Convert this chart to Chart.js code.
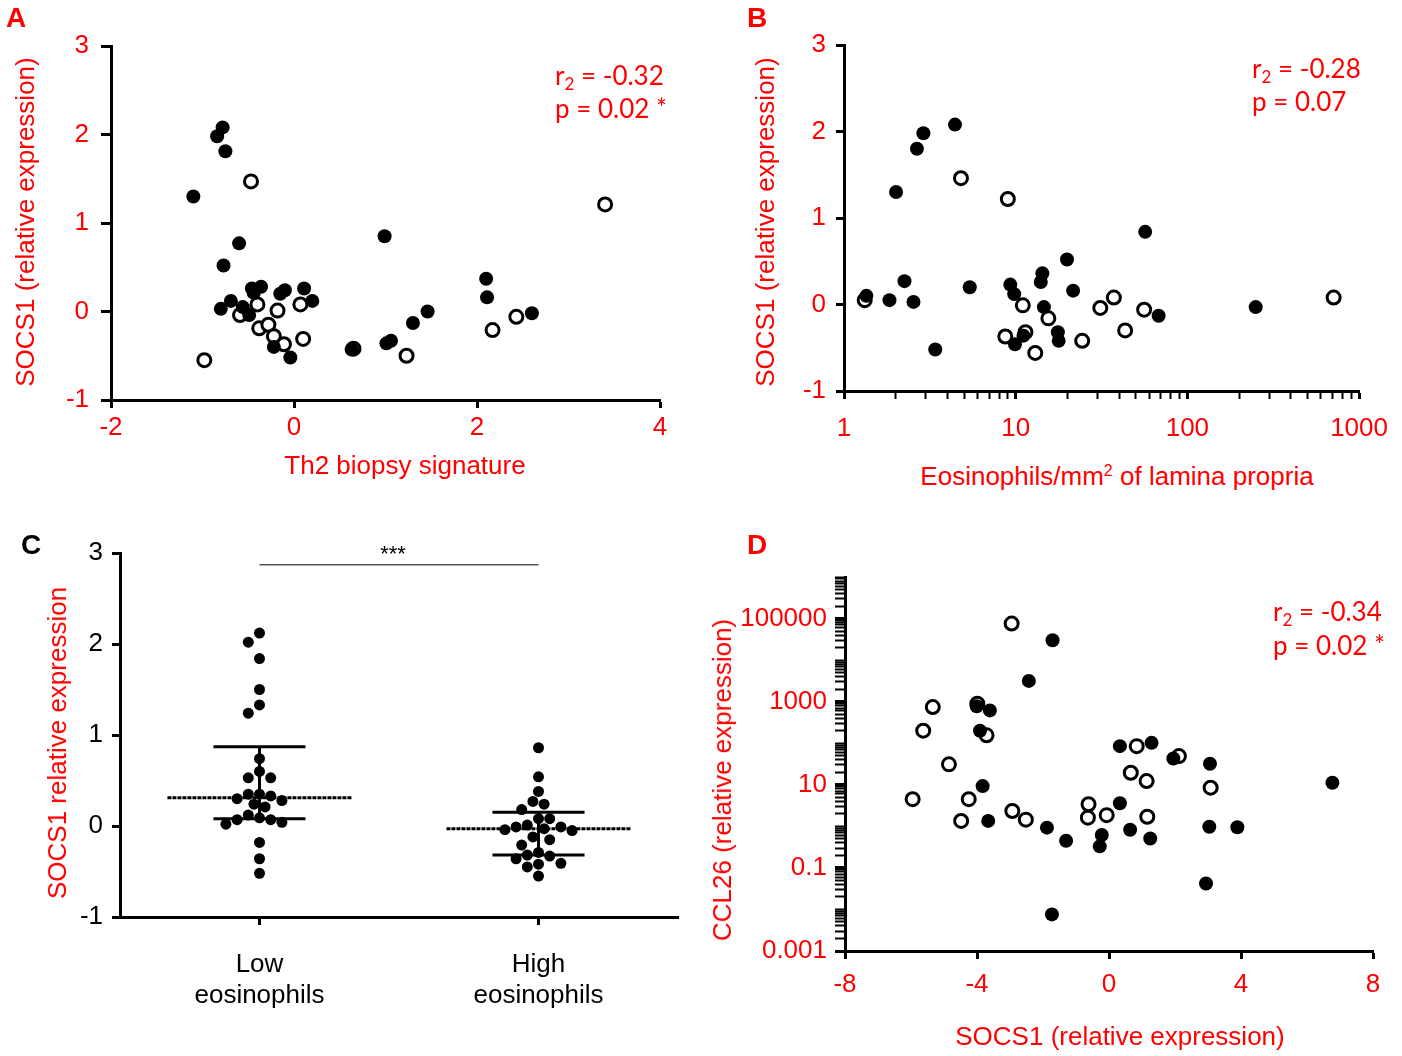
<!DOCTYPE html>
<html><head><meta charset="utf-8">
<script src="https://cdn.jsdelivr.net/npm/chart.js@4/dist/chart.umd.min.js"></script>
<style>
html,body{margin:0;padding:0;background:#fff;}
#page{position:relative;width:1402px;height:1056px;overflow:hidden;font-family:"Liberation Sans",Arial,sans-serif;background:#fff;}
canvas{position:absolute;}
.t{position:absolute;white-space:nowrap;color:#f00;font-size:26px;line-height:1;}
.rot{transform:translate(-50%,-50%) rotate(-90deg);}
.ctr{transform:translate(-50%,-50%);}
.ann{font-family:Lato,"Open Sans",sans-serif;font-size:26px;transform:translateY(-50%);}
.ann sub{font-size:17px;vertical-align:-5px;line-height:0;}
.lab{font-weight:bold;font-size:28px;transform:translate(-50%,-50%);}
sup{font-size:16px;vertical-align:9px;line-height:0;}
</style></head>
<body><div id="page">
<canvas id="cA" width="700" height="460" style="left:0;top:0"></canvas>
<canvas id="cB" width="702" height="460" style="left:700px;top:0"></canvas>
<canvas id="cC" width="700" height="520" style="left:0;top:500px"></canvas>
<canvas id="cD" width="702" height="556" style="left:700px;top:500px"></canvas>

<div class="t lab" style="left:16px;top:18px">A</div>
<div class="t lab" style="left:757px;top:18px">B</div>
<div class="t lab" style="left:31px;top:545px;color:#000">C</div>
<div class="t lab" style="left:757px;top:545px">D</div>

<div class="t rot" style="left:25px;top:222px">SOCS1 (relative expression)</div>
<div class="t ctr" style="left:405px;top:465px">Th2 biopsy signature</div>
<div class="t ann" style="left:555px;top:75px">r<sub>2</sub> = -0.32</div>
<div class="t ann" style="left:555px;top:108px">p = 0.02 *</div>

<div class="t rot" style="left:765px;top:222px">SOCS1 (relative expression)</div>
<div class="t ctr" style="left:1117px;top:476px">Eosinophils/mm<sup>2</sup> of lamina propria</div>
<div class="t ann" style="left:1252px;top:68px">r<sub>2</sub> = -0.28</div>
<div class="t ann" style="left:1252px;top:101px">p = 0.07</div>

<div class="t rot" style="left:57px;top:743px">SOCS1 relative expression</div>
<div class="t" style="left:393px;top:543px;transform:translateX(-50%);color:#000;font-size:22px">***</div>

<div class="t rot" style="left:722px;top:780px">CCL26 (relative expression)</div>
<div class="t ctr" style="left:1120px;top:1036px">SOCS1 (relative expression)</div>
<div class="t ann" style="left:1273px;top:611px">r<sub>2</sub> = -0.34</div>
<div class="t ann" style="left:1273px;top:645px">p = 0.02 *</div>
</div>
<script>
// ---------------- DATA ----------------
// Panel A: SOCS1 vs Th2 biopsy signature
const aFilledX = [-0.78,-0.84,-0.75,-1.10,-0.60,0.99,-0.77,-0.46,-0.36,-0.44,-0.10,-0.15,0.11,0.20,-0.80,-0.69,-0.56,-0.49,-0.22,-0.04,0.63,1.01,1.06,2.10,2.11,1.46,1.30,2.60];
const aFilledY = [2.08,1.98,1.81,1.30,0.77,0.85,0.52,0.26,0.28,0.21,0.24,0.20,0.26,0.12,0.03,0.12,0.05,-0.04,-0.40,-0.52,-0.43,-0.36,-0.33,0.37,0.16,0.00,-0.13,-0.02];
const aOpenX = [-0.47,0.07,-0.40,-0.18,-0.59,-0.38,-0.28,-0.22,-0.11,0.10,-0.98,0.65,1.23,3.40,2.17,2.43];
const aOpenY = [1.47,0.08,0.08,0.01,-0.04,-0.19,-0.15,-0.28,-0.37,-0.31,-0.55,-0.42,-0.50,1.21,-0.21,-0.06];
const aXTicks = [-2,0,2,4];
const aYTicks = [-1,0,1,2,3];

// Panel B: SOCS1 vs eosinophils/mm2 (log x)
const bFilledX = [4.43,2.9,2.66,2.01,19.9,14.3,14.0,2.25,5.4,9.3,9.8,21.6,1.35,1.84,2.54,14.6,11.1,9.9,17.6,17.8,3.4,56.8,68,250];
const bFilledY = [2.08,1.98,1.80,1.30,0.52,0.36,0.26,0.27,0.20,0.23,0.12,0.16,0.10,0.05,0.03,-0.03,-0.36,-0.46,-0.32,-0.42,-0.52,0.84,-0.13,-0.03];
const bOpenX = [4.8,9.0,1.32,11.0,15.5,31.1,37.3,11.4,8.7,24.4,13.0,43.4,56,711];
const bOpenY = [1.46,1.22,0.05,-0.01,-0.16,-0.04,0.08,-0.32,-0.37,-0.42,-0.56,-0.30,-0.06,0.08];
const bXLabels = [1,10,100,1000];
const bYTicks = [-1,0,1,2,3];

// Panel C: SOCS1 by eosinophil group
const cCategories = [["Low","eosinophils"],["High","eosinophils"]];
const cLow = [2.12,2.02,1.84,1.50,1.33,1.24,0.74,0.60,0.53,0.53,0.35,0.35,0.33,0.30,0.28,0.24,0.21,0.12,0.09,0.07,0.07,0.04,0.02,-0.18,-0.36,-0.52];
const cHigh = [0.86,0.54,0.38,0.27,0.24,0.18,0.08,0.08,0.01,-0.01,-0.01,-0.03,-0.04,-0.05,-0.12,-0.15,-0.21,-0.29,-0.32,-0.33,-0.36,-0.41,-0.42,-0.45,-0.55];
const cLowStats = [0.08,0.31,0.87];   // Q1, median, Q3
const cHighStats = [-0.32,-0.03,0.15];
const cSigY = 2.87;
const cYTicks = [-1,0,1,2,3];

// Panel D: CCL26 vs SOCS1 (log y)
const dFilledX = [-1.71,-2.43,-4.01,-3.61,-3.91,-3.83,-3.66,-1.88,-1.30,-0.22,-0.28,0.33,0.33,0.64,-1.73,1.29,1.95,3.06,6.77,1.25,3.04,3.89,2.94];
const dFilledY = [30000,3160,776,617,200,9.3,1.35,0.93,0.45,0.62,0.33,3.6,85,0.83,0.0076,102,43,32,11.2,0.51,0.98,0.95,0.042];
const dOpenX = [-2.95,-5.34,-3.99,-5.63,-3.71,-4.85,-5.95,-4.25,-4.48,-2.93,-2.52,-0.62,-0.64,-0.07,0.84,0.66,2.12,1.14,3.08,1.16];
const dOpenY = [75900,741,891,200,155,31,4.5,4.5,1.35,2.34,1.45,3.4,1.62,1.86,85,19.5,49,12.3,8.5,1.7];
const dXTicks = [-8,-4,0,4,8];
const dYLabels = [0.001,0.1,10,1000,100000];

// ---------------- HELPERS ----------------
const RED = '#ff0000';
const FONT = {family:'"Liberation Sans", Arial, sans-serif', size:26};
const pts = (xs, ys) => xs.map((x,i)=>({x, y:ys[i]}));
const filledDs = (data, r=7) => ({data, pointRadius:r, pointHoverRadius:r, backgroundColor:'#000', borderColor:'#000', borderWidth:0, showLine:false});
const openDs = (data) => ({data, pointRadius:6.5, pointHoverRadius:6.5, backgroundColor:'#fff', borderColor:'#000', borderWidth:3, showLine:false});

function axis(o){
  return {
    type: o.type || 'linear', min:o.min, max:o.max, position:o.position,
    border:{display:true, color:'#000', width:3},
    grid:{drawOnChartArea:false, drawTicks:true, tickLength:o.tl||8, tickColor:'#000', tickWidth:o.tw||3},
    ticks:{color:o.color||RED, font:FONT, padding:o.pad, autoSkip:false, maxRotation:0, callback:o.cb || (v=>String(v))},
    afterBuildTicks: o.ticks ? (s=>{ s.ticks = o.ticks.map(v=>({value:v})); }) : undefined,
    afterFit: s => { if (o.position==='left') s.width = o.size; else s.height = o.size; }
  };
}
function logTicks(min,max){
  const t=[]; const e0=Math.round(Math.log10(min)), e1=Math.round(Math.log10(max));
  for(let e=e0;e<e1;e++) for(let m=1;m<10;m++) t.push(+(m*Math.pow(10,e)).toPrecision(6));
  t.push(max); return t;
}
const isLab = (labels,v) => labels.some(l=>Math.abs(l-v) <= Math.abs(l)*1e-6);
const baseOpts = (pad, scales) => ({
  responsive:false, animation:false, devicePixelRatio:1,
  layout:{padding:pad},
  plugins:{legend:{display:false}, tooltip:{enabled:false}},
  events:[], scales
});

// ---------------- PANEL A ----------------
new Chart(document.getElementById('cA'), {
  type:'scatter',
  data:{datasets:[filledDs(pts(aFilledX,aFilledY)), openDs(pts(aOpenX,aOpenY))]},
  options: baseOpts({left:0,top:46,right:40,bottom:0}, {
    x: axis({min:-2,max:4,position:'bottom',ticks:aXTicks,size:60,tl:8,pad:4}),
    y: axis({min:-1,max:3,position:'left',ticks:aYTicks,size:111,tl:10,pad:12})
  })
});

// ---------------- PANEL B ----------------
new Chart(document.getElementById('cB'), {
  type:'scatter',
  data:{datasets:[filledDs(pts(bFilledX,bFilledY)), openDs(pts(bOpenX,bOpenY))]},
  options: baseOpts({left:0,top:45,right:38,bottom:0}, {
    x: axis({type:'logarithmic',min:1,max:1000,position:'bottom',ticks:logTicks(1,1000),size:69,tl:8,pad:14,
             tw:ctx=> isLab(bXLabels, ctx.tick.value) ? 3 : 2,
             cb:v=> isLab(bXLabels,v) ? String(v) : ''}),
    y: axis({min:-1,max:3,position:'left',ticks:bYTicks,size:144,tl:8,pad:10})
  })
});

// ---------------- PANEL C ----------------
const statLines = (g, st) => {
  const mk = (data, dash) => ({type:'line', data, borderColor:'#000', borderWidth:3, pointRadius:0, borderDash:dash||[], showLine:true, fill:false});
  return [
    mk([{x:g-0.33,y:st[1]},{x:g+0.33,y:st[1]}],[4,1]),
    mk([{x:g-0.165,y:st[2]},{x:g+0.165,y:st[2]}]),
    mk([{x:g-0.165,y:st[0]},{x:g+0.165,y:st[0]}]),
    mk([{x:g,y:st[0]},{x:g,y:st[2]}])
  ];
};
const chartC = new Chart(document.getElementById('cC'), {
  type:'scatter',
  data:{datasets:[
    ...statLines(0,cLowStats), ...statLines(1,cHighStats),
    {type:'line', data:[{x:0,y:cSigY},{x:1,y:cSigY}], borderColor:'#000', borderWidth:1, pointRadius:0, showLine:true},
    filledDs(cLow.map(v=>({x:0,y:v})),5.5),
    filledDs(cHigh.map(v=>({x:1,y:v})),5.5)
  ]},
  options: baseOpts({left:0,top:53,right:22,bottom:0}, {
    x: axis({min:-0.5,max:1.5,position:'bottom',ticks:[0,1],size:103,tl:8,pad:24,color:'#000',cb:v=>cCategories[v]}),
    y: axis({min:-1,max:3,position:'left',ticks:cYTicks,size:120,tl:8,pad:9,color:'#000'})
  })
});
function swarm(chart, dsIndex, values, group){
  const xs = chart.scales.x, ys = chart.scales.y;
  const cx = xs.getPixelForValue(group);
  const diam = 11, step = 5.6;
  const placed = [];
  const order = values.map((v,i)=>i).sort((a,b)=>values[b]-values[a]);
  const out = new Array(values.length);
  order.forEach(i=>{
    const py = ys.getPixelForValue(values[i]);
    for (let k=0;k<60;k++){
      const offs = k===0 ? [0] : [-k*step, k*step];
      let found = null;
      for (const o of offs){
        if (placed.every(p=>Math.hypot(p.x-(cx+o), p.y-py) >= diam)) { found=o; break; }
      }
      if (found!==null){ placed.push({x:cx+found,y:py}); out[i]={x:xs.getValueForPixel(cx+found), y:values[i]}; break; }
    }
  });
  chart.data.datasets[dsIndex].data = out;
}
swarm(chartC, 9, cLow, 0);
swarm(chartC, 10, cHigh, 1);
chartC.update('none');

// ---------------- PANEL D ----------------
new Chart(document.getElementById('cD'), {
  type:'scatter',
  data:{datasets:[filledDs(pts(dFilledX,dFilledY)), openDs(pts(dOpenX,dOpenY))]},
  options: baseOpts({left:0,top:77,right:29,bottom:0}, {
    x: axis({min:-8,max:8,position:'bottom',ticks:dXTicks,size:105,tl:8,pad:10}),
    y: axis({type:'logarithmic',min:0.001,max:1000000,position:'left',ticks:logTicks(0.001,1000000),size:145,tl:10,pad:8,
             tw:ctx=> isLab(dYLabels, ctx.tick.value) ? 3 : 2,
             cb:v=> isLab(dYLabels,v) ? String(v) : ''})
  })
});
</script>
</body></html>
